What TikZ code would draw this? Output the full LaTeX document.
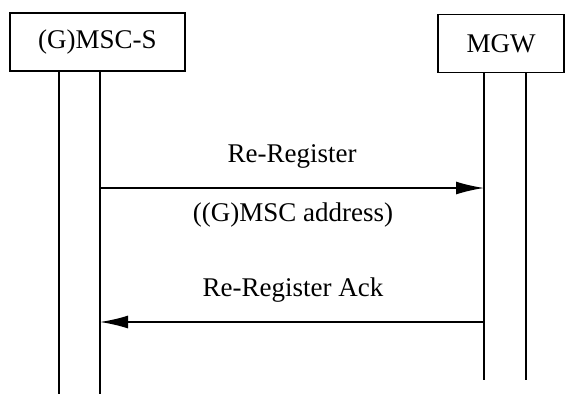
\documentclass[tikz,border=0pt]{standalone}
\usepackage{fontspec}
\setmainfont{Liberation Serif}
\usetikzlibrary{arrows.meta}
\begin{document}
\begin{tikzpicture}[x=1pt,y=-1pt,
  ent/.style={draw,line width=1.8pt,minimum height=58pt,inner sep=0pt,font=\fontsize{27}{32}\selectfont},
  life/.style={line width=1.8pt},
  msg/.style={line width=1.6pt,-{Latex[length=28pt,width=13pt]}},
  lbl/.style={font=\fontsize{27}{32}\selectfont}]
\useasboundingbox (0,0) rectangle (565,394);
\node[ent,minimum width=175pt] (msc) at (97.5,42) {(G)MSC-S};
\node[ent,minimum width=126pt] (mgw) at (501,43.5) {MGW};
\coordinate (a1) at (59,71); \coordinate (a2) at (59,394);
\coordinate (b1) at (100,71); \coordinate (b2) at (100,394);
\coordinate (c1) at (484,72); \coordinate (c2) at (484,380);
\coordinate (d1) at (526,72); \coordinate (d2) at (526,380);
\draw[life] (a1) -- (a2);
\draw[life] (b1) -- (b2);
\draw[life] (c1) -- (c2);
\draw[life] (d1) -- (d2);
\coordinate (m1s) at (100,188); \coordinate (m1e) at (484,188);
\coordinate (m2s) at (484,322); \coordinate (m2e) at (100,322);
\draw[msg] (m1s) -- (m1e);
\draw[msg] (m2s) -- (m2e);
\node[lbl] (l1) at (292,156) {Re-Register};
\node[lbl] (l2) at (293,215) {((G)MSC address)};
\node[lbl] (l3) at (293,290) {Re-Register Ack};
\end{tikzpicture}
\end{document}
